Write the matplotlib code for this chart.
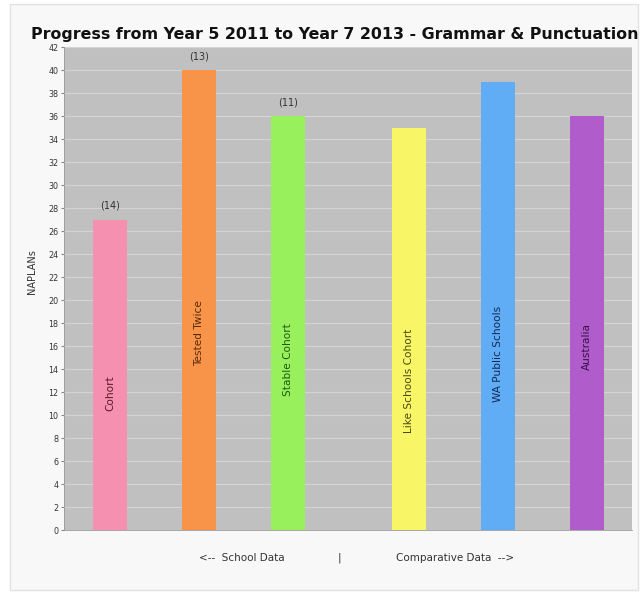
import matplotlib
matplotlib.use("Agg")
import matplotlib.pyplot as plt
from matplotlib.patches import Rectangle
import numpy as np

# Data
categories = ["Cohort", "Tested Twice", "Stable Cohort",
              "Like Schools Cohort", "WA Public Schools", "Australia"]
values = [27, 40, 36, 35, 39, 36]
counts = ["(14)", "(13)", "(11)", "", "", ""]
is_comparative = [False, False, False, True, True, True]
bar_colors = ["#f590b0", "#f8944a", "#98f05c", "#f8f566", "#60acf5", "#b05ccb"]
text_colors = ["#5a1a2a", "#5a2a08", "#1e5a10", "#4a4a10", "#0e2a55", "#3a1048"]
yticks = list(range(0, 43, 2))

# Positions: extra gap between school data and comparative data
x = np.arange(len(categories)) + np.where(is_comparative, 0.36, 0.0)

fig = plt.figure(figsize=(6.4, 5.92), dpi=100)
fig.patch.set_facecolor("white")

# Light panel behind the chart
panel = Rectangle((10 / 640, 2 / 592), 628 / 640, 586 / 592,
                  transform=fig.transFigure, facecolor="#f8f8f8",
                  edgecolor="#e2e2e2", linewidth=1, zorder=-10)
fig.patches.append(panel)

ax = fig.add_axes([0.1, 0.1047, 0.8875, 0.8159])
ax.set_zorder(5)
ax.set_facecolor("#c0c0c0")

ax.bar(x, values, width=0.38, color=bar_colors, zorder=3)

for xi, v, name, tc, c in zip(x, values, categories, text_colors, counts):
    ax.text(xi, v / 2, name, rotation=90, ha="center", va="top",
            fontsize=7.6, color=tc, zorder=4)
    if c:
        ax.text(xi, v + 1.2, c, ha="center", va="center",
                fontsize=7, color="#333333", zorder=4)

ax.set_xlim(-0.517, x[-1] + 0.506)
ax.set_ylim(0, 42)
ax.set_yticks(yticks)
ax.set_xticks([])
ax.tick_params(axis="y", labelsize=5.8, length=2, color="#888888",
               labelcolor="#333333", pad=2)
ax.yaxis.grid(True, color="#d4d4d4", linewidth=0.8, zorder=1)
ax.set_axisbelow(True)

for side in ["top", "right"]:
    ax.spines[side].set_visible(False)
ax.spines["left"].set_color("#999999")
ax.spines["bottom"].set_color("#999999")
ax.spines["left"].set_linewidth(0.6)
ax.spines["bottom"].set_linewidth(0.6)

ax.set_ylabel("NAPLANs", fontsize=7, color="#333333")
ax.yaxis.set_label_coords(-0.048, 0.535)

fig.text(0.523, 0.941, "Progress from Year 5 2011 to Year 7 2013 - Grammar & Punctuation",
         ha="center", va="center", fontsize=11.4, fontweight="bold", color="#111111")

fig.text(242 / 640, 1 - 558 / 592, "<--  School Data", ha="center", va="center",
         fontsize=7.5, color="#333333")
fig.text(339 / 640, 1 - 558 / 592, "|", ha="center", va="center",
         fontsize=7.5, color="#333333")
fig.text(455 / 640, 1 - 558 / 592, "Comparative Data  -->", ha="center", va="center",
         fontsize=7.5, color="#333333")

fig.savefig("out.png", dpi=100)
